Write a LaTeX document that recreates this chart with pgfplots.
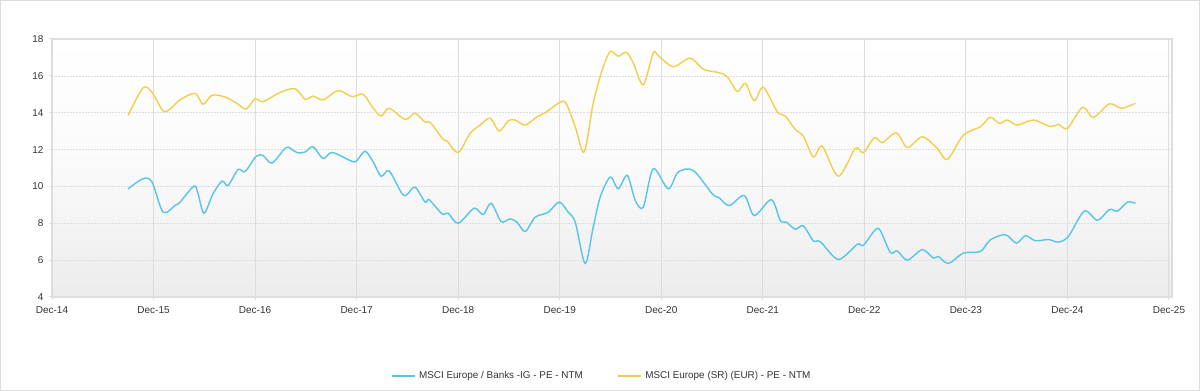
\documentclass[border=0pt]{standalone}
\usepackage{pgfplots}
\pgfplotsset{compat=1.18}
\usepackage{fontspec}
\setmainfont{Liberation Sans}
\definecolor{cblue}{HTML}{55C5E8}
\definecolor{cyell}{HTML}{F2CF4A}
\definecolor{gridc}{HTML}{DDDDDD}
\definecolor{txt}{HTML}{333333}
\begin{document}
\begin{tikzpicture}
\useasboundingbox (0,0) rectangle (1200pt,391pt);
\draw[gridc, line width=1pt] (0.5pt,0.5pt) rectangle (1199.5pt,390.5pt);
\begin{axis}[
  scale only axis, width=1120pt, height=258pt,
  at={(52pt,94pt)}, anchor=south west,
  xmin=0, xmax=11.03, ymin=4, ymax=18,
  xtick={0,...,11},
  xticklabels={Dec-14,Dec-15,Dec-16,Dec-17,Dec-18,Dec-19,Dec-20,Dec-21,Dec-22,Dec-23,Dec-24,Dec-25},
  ytick={4,6,...,18},
  /pgf/number format/assume math mode=true,
  tick label style={font=\fontsize{10}{12}\selectfont, text=txt},
  xticklabel style={yshift=-3pt},
  yticklabel style={xshift=-2pt},
  tick align=outside, major tick length=3pt,
  tick style={gridc, line width=1pt},
  xtick pos=bottom, ytick pos=left,
  axis line style={gridc, line width=2pt},
  xmajorgrids, ymajorgrids,
  x grid style={gridc, line width=1pt},
  y grid style={gridc, line width=0.6pt, dash pattern=on 2pt off 1pt},
  axis background/.style={top color=white, bottom color={rgb,255:red,236;green,236;blue,236}, middle color={rgb,255:red,250;green,250;blue,250}},
  legend columns=2,
  legend style={at={(axis description cs:0.4915,-0.306)}, anchor=center, draw=none, fill=none,
    font=\fontsize{9.9}{12}\selectfont, text=txt, /tikz/every even column/.append style={column sep=31pt},
    nodes={inner xsep=3.5pt}},
  legend image code/.code={\draw[#1] (0pt,0pt) -- (23pt,0pt);},
]
\addplot[cblue, line width=1.4pt, smooth, tension=0.5] coordinates {
(0.749,9.87)(0.897,10.42)(0.985,10.24)(1.094,8.6)(1.212,8.97)(1.261,9.15)(1.399,10.02)(1.438,9.6)(1.498,8.55)(1.586,9.6)(1.675,10.29)(1.734,10.05)(1.833,10.92)(1.901,10.8)(2.010,11.63)(2.079,11.68)(2.167,11.27)(2.305,12.11)(2.374,11.96)(2.424,11.82)(2.493,11.87)(2.571,12.15)(2.670,11.51)(2.759,11.84)(2.956,11.36)(3.005,11.42)(3.084,11.91)(3.163,11.33)(3.241,10.55)(3.320,10.84)(3.448,9.6)(3.498,9.57)(3.576,9.96)(3.675,9.15)(3.714,9.28)(3.842,8.51)(3.901,8.55)(4.000,8.0)(4.158,8.82)(4.246,8.47)(4.325,9.09)(4.424,8.09)(4.512,8.24)(4.581,8.05)(4.660,7.55)(4.759,8.33)(4.887,8.6)(4.995,9.15)(5.084,8.6)(5.153,8.06)(5.251,5.82)(5.330,7.79)(5.399,9.42)(5.498,10.51)(5.576,9.87)(5.665,10.6)(5.744,9.24)(5.823,8.87)(5.921,10.96)(6.069,9.87)(6.167,10.78)(6.315,10.87)(6.502,9.6)(6.571,9.38)(6.670,8.96)(6.818,9.51)(6.916,8.42)(7.084,9.28)(7.172,8.15)(7.232,8.06)(7.320,7.68)(7.399,7.86)(7.498,7.05)(7.567,7.0)(7.744,6.04)(7.931,6.86)(7.990,6.8)(8.108,7.65)(8.158,7.6)(8.256,6.42)(8.325,6.5)(8.424,6.0)(8.571,6.57)(8.680,6.11)(8.729,6.2)(8.828,5.82)(8.975,6.38)(9.143,6.47)(9.241,7.1)(9.389,7.38)(9.498,6.92)(9.586,7.33)(9.685,7.05)(9.813,7.12)(9.911,6.98)(10.010,7.29)(10.167,8.66)(10.296,8.16)(10.414,8.75)(10.493,8.66)(10.591,9.15)(10.670,9.09)
};
\addlegendentry{MSCI Europe / Banks -IG - PE - NTM}
\addplot[cyell, line width=1.4pt, smooth, tension=0.5] coordinates {
(0.749,13.85)(0.897,15.35)(0.985,15.1)(1.094,14.1)(1.163,14.2)(1.261,14.7)(1.409,15.05)(1.488,14.45)(1.576,14.95)(1.704,14.85)(1.823,14.5)(1.911,14.2)(2.000,14.75)(2.079,14.6)(2.246,15.1)(2.394,15.3)(2.493,14.73)(2.571,14.9)(2.670,14.7)(2.818,15.2)(2.956,14.87)(3.064,15.0)(3.153,14.33)(3.241,13.82)(3.320,14.24)(3.478,13.64)(3.576,13.97)(3.675,13.48)(3.724,13.48)(3.852,12.55)(3.892,12.45)(4.000,11.84)(4.118,12.88)(4.217,13.33)(4.315,13.7)(4.404,13.0)(4.493,13.56)(4.562,13.6)(4.660,13.33)(4.778,13.78)(4.857,14.0)(5.005,14.57)(5.064,14.5)(5.153,13.24)(5.241,11.87)(5.330,14.51)(5.419,16.33)(5.498,17.33)(5.576,17.06)(5.655,17.28)(5.724,16.7)(5.823,15.51)(5.921,17.25)(5.970,17.1)(6.118,16.5)(6.286,16.96)(6.414,16.36)(6.562,16.18)(6.650,15.96)(6.749,15.15)(6.828,15.6)(6.916,14.65)(7.005,15.38)(7.143,14.05)(7.222,13.82)(7.320,13.09)(7.399,12.73)(7.498,11.6)(7.586,12.18)(7.744,10.55)(7.911,12.07)(7.990,11.83)(8.099,12.64)(8.177,12.38)(8.315,12.91)(8.424,12.11)(8.571,12.69)(8.719,12.06)(8.818,11.46)(8.975,12.78)(9.143,13.24)(9.241,13.75)(9.330,13.42)(9.409,13.6)(9.507,13.33)(9.665,13.6)(9.833,13.24)(9.911,13.37)(10.000,13.15)(10.148,14.29)(10.256,13.75)(10.414,14.48)(10.532,14.24)(10.670,14.51)
};
\addlegendentry{MSCI Europe (SR) (EUR) - PE - NTM}
\end{axis}
\end{tikzpicture}
\end{document}
